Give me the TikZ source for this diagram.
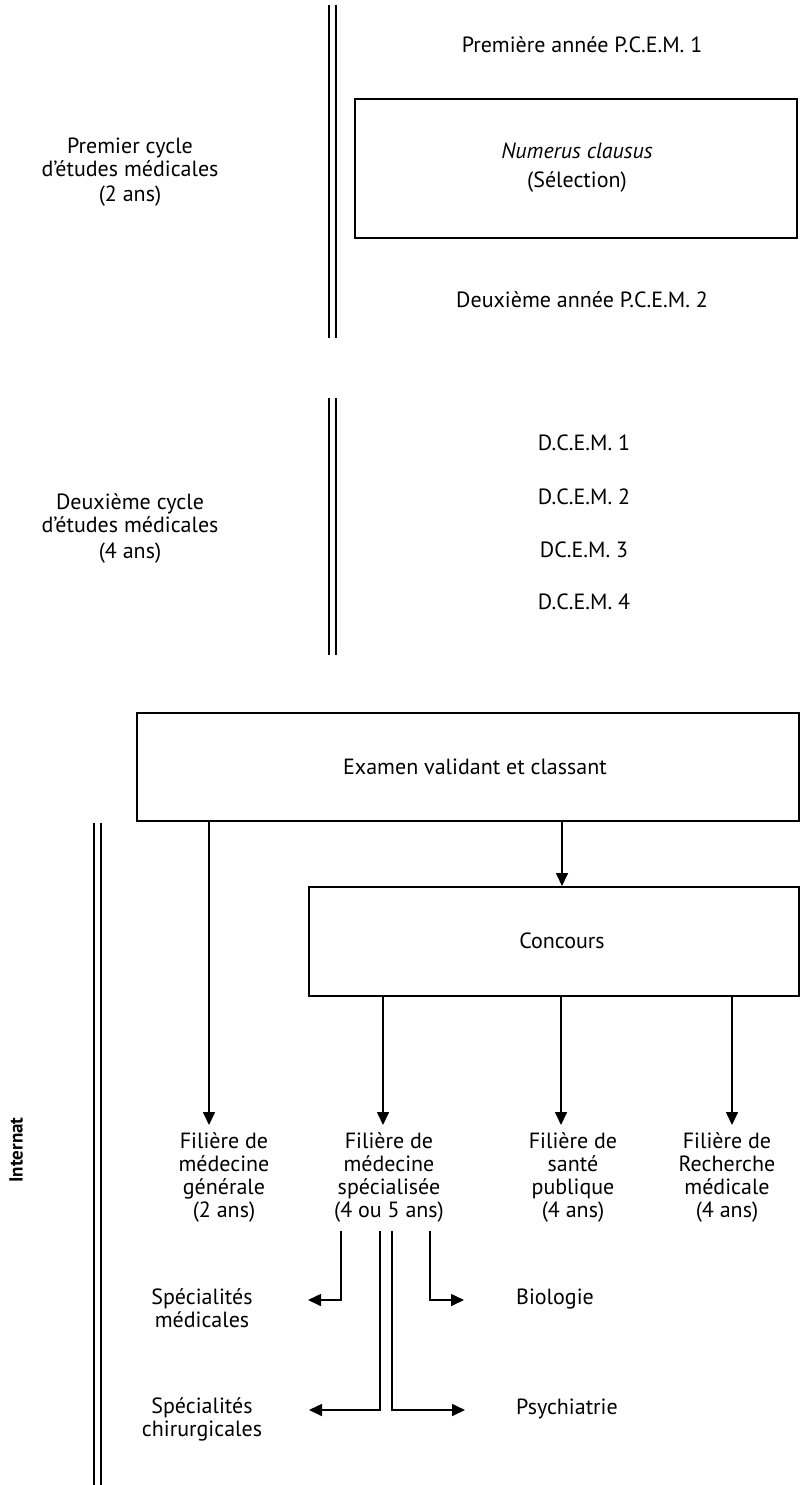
\documentclass[tikz,border=0pt]{standalone}
\usepackage{fontspec}
\setmainfont{PT Sans}
\usetikzlibrary{arrows.meta}
\tikzset{
  lbl/.style={font=\fontsize{22}{23}\selectfont, align=center, inner sep=0pt},
  box/.style={draw, line width=2pt, inner sep=0pt},
  arr/.style={line width=1.6pt, -{Triangle[length=13pt,width=12pt]}},
  sepline/.style={line width=1.7pt},
}
\begin{document}
\begin{tikzpicture}[x=1pt,y=-1pt]
\useasboundingbox (0,0) rectangle (807,1485);
% separators
\draw[sepline] (329,5) -- (329,338);
\draw[sepline] (336,5) -- (336,338);
\draw[sepline] (329,398) -- (329,655);
\draw[sepline] (336,398) -- (336,655);
\draw[sepline] (94,823) -- (94,1485);
\draw[sepline] (101,823) -- (101,1485);

% first cycle
\node[lbl] (cycle1) at (130,172) {Premier cycle\\d'études médicales\\[2pt](2 ans)};
\node[lbl] (pcem1) at (582,45) {Première année P.C.E.M. 1};
\node[box, minimum width=442pt, minimum height=139pt] (numerus) at (576,168.5) {};
\node[lbl] (numtxt) at (577,168) {\textit{Numerus clausus}\\[6pt](Sélection)};
\node[lbl] (pcem2) at (582,300) {Deuxième année P.C.E.M. 2};

% second cycle
\node[lbl] (cycle2) at (130,528) {Deuxième cycle\\d'études médicales\\[3pt](4 ans)};
\node[lbl] (dcem1) at (584,443) {D.C.E.M. 1};
\node[lbl] (dcem2) at (584,497) {D.C.E.M. 2};
\node[lbl] (dcem3) at (584,550) {DC.E.M. 3};
\node[lbl] (dcem4) at (584,602) {D.C.E.M. 4};

% internat
\node[lbl, rotate=90, font=\fontsize{19}{20}\selectfont\bfseries] (internat) at (16,1150) {Internat};
\node[box, minimum width=662pt, minimum height=108pt] (examen) at (468,767) {};
\node[lbl] (examtxt) at (475,767) {Examen validant et classant};
\node[box, minimum width=490pt, minimum height=109pt] (concours) at (554,941.5) {};
\node[lbl] (conctxt) at (562,941) {Concours};

\node[lbl] (fil1) at (224,1177) {Filière de\\médecine\\générale\\(2 ans)};
\node[lbl] (fil2) at (389,1177) {Filière de\\médecine\\spécialisée\\(4 ou 5 ans)};
\node[lbl] (fil3) at (573,1177) {Filière de\\santé\\publique\\(4 ans)};
\node[lbl] (fil4) at (727,1177) {Filière de\\Recherche\\médicale\\(4 ans)};

\coordinate (t1) at (209,1125);
\coordinate (t2) at (383,1125);
\coordinate (t3) at (561,1125);
\coordinate (t4) at (732,1125);
\coordinate (tc) at (562,887);

\draw[arr] (examen.south -| t1) -- (t1);
\draw[arr] (examen.south -| tc) -- (concours.north -| tc);
\draw[arr] (concours.south -| t2) -- (t2);
\draw[arr] (concours.south -| t3) -- (t3);
\draw[arr] (concours.south -| t4) -- (t4);

\node[lbl] (specmed) at (202,1308) {Spécialités\\médicales};
\node[lbl] (specchir) at (202,1419) {Spécialités\\chirurgicales};
\node[lbl] (bio) at (555,1299) {Biologie};
\node[lbl] (psy) at (567,1409) {Psychiatrie};

\coordinate (m0) at (341,1231);
\coordinate (b0) at (430,1231);
\coordinate (c0) at (380,1231);
\coordinate (p0) at (392,1231);
\coordinate (mt) at (308,1300);
\coordinate (bt) at (464,1300);
\coordinate (ct) at (309,1410);
\coordinate (pt) at (465,1410);

\draw[arr] (m0) |- (mt);
\draw[arr] (b0) |- (bt);
\draw[arr] (c0) |- (ct);
\draw[arr] (p0) |- (pt);
\end{tikzpicture}
\end{document}
